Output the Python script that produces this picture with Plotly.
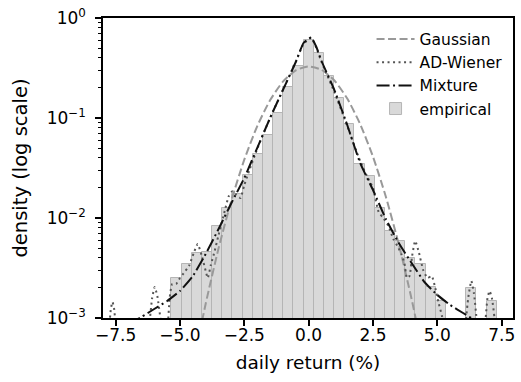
import plotly.graph_objects as go

# ---------------- data ----------------
bin_left = -5.33
bin_width = 0.395
hist_density = [0.00249, 0.00347, 0.00447, 0.00453, 0.00838, 0.01247, 0.0174, 0.0271,
                0.0433, 0.0676, 0.112, 0.202, 0.333, 0.600, 0.447, 0.265,
                0.158, 0.0871, 0.0347, 0.0265, 0.0125, 0.00746, 0.00593, 0.00394,
                0.00347, 0.00202, 0.00149, None, None, 0.00198, None, 0.00147]

gauss_x = [-4.5, -4.0, -3.5, -3.0, -2.5, -2.0, -1.5, -1.0, -0.5, 0.0,
           0.5, 1.0, 1.5, 2.0, 2.5, 3.0, 3.5, 4.0, 4.5]
gauss_y = [3.3e-4, 1.39e-3, 4.97e-3, 0.01503, 0.03834, 0.0826, 0.1503, 0.2307, 0.2994, 0.328,
           0.3034, 0.2372, 0.1564, 0.0871, 0.041, 0.0163, 5.47e-3, 1.55e-3, 3.7e-4]

mix_x = [-7.0, -6.5, -6.0, -5.5, -5.0, -4.5, -4.0, -3.5, -3.0, -2.5, -2.0, -1.5, -1.0, -0.5,
         -0.2, 0.1, 0.3, 0.5, 1.0, 1.5, 2.0, 2.5, 3.0, 3.5, 4.0, 4.5, 5.0, 5.5, 6.0, 6.5]
mix_y = [8.71e-4, 1.023e-3, 1.23e-3, 1.479e-3, 1.862e-3, 2.63e-3, 4.365e-3, 7.762e-3, 0.01413,
         0.02512, 0.0501, 0.1, 0.1905, 0.3631, 0.5623, 0.6397, 0.5129, 0.3715, 0.1905, 0.0851,
         0.03548, 0.01905, 9.77e-3, 5.623e-3, 3.548e-3, 2.291e-3, 1.698e-3, 1.349e-3, 1.122e-3, 9.33e-4]

ad_x = [-7.85, -7.75, -7.68, -7.62, -7.55, -7.48, -7.35,
        -6.35, -6.2, -6.08, -5.98, -5.88, -5.75, -5.6, -5.48, -5.4, -5.3, -5.15, -5.0, -4.85,
        -4.65, -4.45, -4.31, -4.15, -4.0, -3.92, -3.8, -3.65, -3.5, -3.3, -3.1, -2.95, -2.8,
        -2.65, -2.5, -2.3, -2.0, -1.5, -1.0, -0.5, -0.2, 0.1, 0.3, 0.5, 1.0, 1.5, 2.0, 2.3,
        2.5, 2.72, 2.9, 3.1, 3.29, 3.45, 3.6, 3.72, 3.82, 3.92, 4.02, 4.14, 4.28, 4.45, 4.62,
        4.78, 4.92, 5.05, 5.18, 5.3, 5.45, 6.0, 6.12, 6.2, 6.32, 6.42, 6.52, 6.62, 6.78, 6.88,
        6.95, 7.03, 7.12, 7.22, 7.32]
ad_y = [2.51e-4, 7.94e-4, 1.259e-3, 1.445e-3, 1.202e-3, 6.31e-4, 2.51e-4,
        2.51e-4, 7.94e-4, 1.585e-3, 2.042e-3, 1.66e-3, 9.55e-4, 5.01e-4, 7.94e-4, 1.585e-3,
        2.188e-3, 2.188e-3, 2.512e-3, 2.818e-3,
        3.311e-3, 4.571e-3, 5.495e-3, 4.169e-3, 2.951e-3, 2.512e-3, 3.388e-3, 4.677e-3,
        6.761e-3, 0.01072, 0.0166, 0.01862, 0.01698,
        0.01585, 0.02138, 0.0302, 0.049, 0.1, 0.1905, 0.3631, 0.5495, 0.631, 0.5012, 0.3631,
        0.182, 0.0832, 0.03715, 0.02512,
        0.01995, 0.01148, 0.01, 8.318e-3, 6.166e-3, 5.248e-3, 4.365e-3, 3.548e-3, 2.512e-3,
        2.63e-3, 4.169e-3, 5.888e-3, 4.571e-3, 3.02e-3, 2.512e-3,
        2.63e-3, 1.995e-3, 1.413e-3, 1.047e-3, 6.31e-4, 2.51e-4, 2.51e-4, 1.0e-3, 1.585e-3,
        2.344e-3, 1.778e-3, 1.0e-3, 2.51e-4, 3.16e-4, 1.0e-3,
        1.585e-3, 1.862e-3, 1.585e-3, 1.0e-3, 3.16e-4]

x_ticks = [-7.5, -5.0, -2.5, 0.0, 2.5, 5.0, 7.5]
x_tick_text = ["\u22127.5", "\u22125.0", "\u22122.5", "0.0", "2.5", "5.0", "7.5"]
y_ticks = [1e-3, 1e-2, 1e-1, 1.0]
y_tick_text = ["10<sup>\u22123</sup>", "10<sup>\u22122</sup>", "10<sup>\u22121</sup>", "10<sup>0</sup>"]

bin_centers = [bin_left + bin_width * (i + 0.5) for i in range(len(hist_density))]
minor_vals = [m * 10.0 ** e for e in (-3, -2, -1) for m in range(2, 10)]

FONT = "DejaVu Sans"

fig = go.Figure()
fig.add_trace(go.Scatter(x=gauss_x, y=gauss_y, mode="lines", name="Gaussian",
                         line=dict(color="#999999", width=2, dash="8px,3.5px",
                                   shape="spline", smoothing=0.6)))
fig.add_trace(go.Scatter(x=ad_x, y=ad_y, mode="lines", name="AD-Wiener",
                         line=dict(color="#555555", width=2, dash="2px,3.5px",
                                   shape="spline", smoothing=0.5)))
fig.add_trace(go.Scatter(x=mix_x, y=mix_y, mode="lines", name="Mixture",
                         line=dict(color="#111111", width=2, dash="13px,3.5px,2px,3.5px",
                                   shape="spline", smoothing=0.4)))
fig.add_trace(go.Bar(x=bin_centers, y=hist_density, width=bin_width, name="empirical",
                     marker=dict(color="#d9d9d9", line=dict(color="#b5b5b5", width=1))))

axis_common = dict(showline=True, linecolor="black", linewidth=1.5, mirror=True,
                   ticks="outside", tickcolor="black", tickwidth=1.5, ticklen=6,
                   showgrid=False, zeroline=False,
                   tickfont=dict(family=FONT, size=17, color="black"))

fig.update_xaxes(range=[-7.99, 7.94], tickmode="array", tickvals=x_ticks, ticktext=x_tick_text,
                 ticklabelstandoff=-5,
                 title=dict(text="daily return (%)", font=dict(family=FONT, size=18.5, color="black"),
                            standoff=12),
                 **axis_common)
fig.update_yaxes(type="log", range=[-3, 0], tickmode="array", tickvals=y_ticks, ticktext=y_tick_text,
                 ticklabelstandoff=6,
                 title=dict(text="density (log scale)", font=dict(family=FONT, size=19.5, color="black"),
                            standoff=14),
                 minor=dict(tickmode="array", tickvals=minor_vals, ticks="outside", ticklen=3.5,
                            tickwidth=1, tickcolor="black", showgrid=False),
                 **axis_common)

fig.update_layout(
    width=521, height=382,
    margin=dict(l=103, r=6, t=17, b=64),
    plot_bgcolor="white", paper_bgcolor="white",
    font=dict(family=FONT, color="black"),
    bargap=0,
    showlegend=True,
    legend=dict(x=0.655, y=0.985, xanchor="left", yanchor="top",
                bgcolor="rgba(255,255,255,0)", borderwidth=0,
                itemwidth=38,
                font=dict(family=FONT, size=15.5, color="black"),
                tracegroupgap=0),
)

fig.write_html("out.html")
